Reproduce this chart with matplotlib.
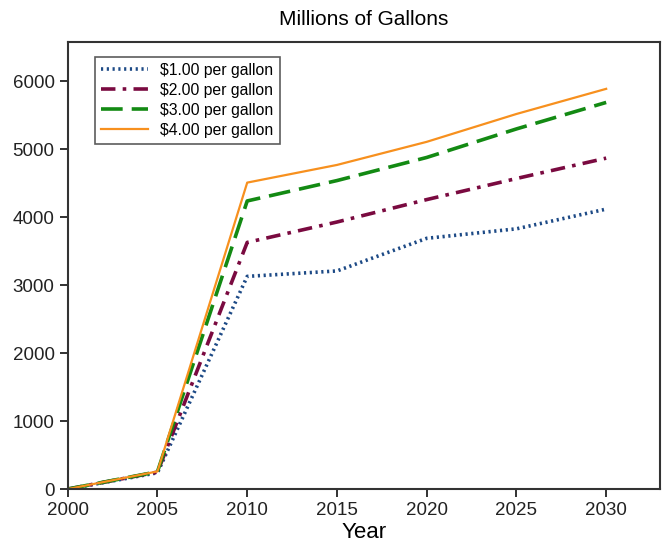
import matplotlib
matplotlib.use("Agg")
import matplotlib.pyplot as plt

plt.rcParams['font.family'] = ['Liberation Sans', 'DejaVu Sans']

# data
years = [2000, 2005, 2010, 2015, 2020, 2025, 2030]
p1 = [0, 240, 3130, 3210, 3690, 3830, 4120]
p2 = [0, 250, 3630, 3930, 4260, 4570, 4870]
p3 = [0, 255, 4240, 4540, 4880, 5300, 5690]
p4 = [0, 260, 4510, 4770, 5110, 5520, 5890]
labels = ["$1.00 per gallon", "$2.00 per gallon", "$3.00 per gallon", "$4.00 per gallon"]

fig = plt.figure(figsize=(6.64, 5.52), dpi=100)
ax = fig.add_axes([0.102, 0.114, 0.892, 0.81])

ax.plot(years, p1, color='#1d4a86', lw=2.6, ls=(0, (0.6, 1.0)), label=labels[0])
ax.plot(years, p2, color='#7a0a40', lw=2.6, ls=(0, (4, 2, 1, 2)), label=labels[1])
ax.plot(years, p3, color='#138a13', lw=2.6, ls=(0, (6, 2.5)), label=labels[2])
ax.plot(years, p4, color='#f7901e', lw=1.6, ls='-', label=labels[3])

ax.set_xlim(2000, 2033)
ax.set_ylim(0, 6580)
ax.set_xticks([2000, 2005, 2010, 2015, 2020, 2025, 2030])
ax.set_yticks([0, 1000, 2000, 3000, 4000, 5000, 6000])
ax.tick_params(labelsize=13.5, length=6, width=1.3, direction='out', colors='#222222')
ax.set_xlabel("Year", fontsize=16, labelpad=2)
ax.set_title("Millions of Gallons", fontsize=15, pad=12)
for s in ax.spines.values():
    s.set_linewidth(1.5)
    s.set_color('#333333')

leg = ax.legend(loc='upper left', bbox_to_anchor=(0.032, 0.985), fontsize=11.3,
                frameon=True, fancybox=False, edgecolor='#333333',
                handlelength=3.0, borderpad=0.4, labelspacing=0.32)
leg.get_frame().set_linewidth(1.2)

fig.savefig("out.png", dpi=100)
